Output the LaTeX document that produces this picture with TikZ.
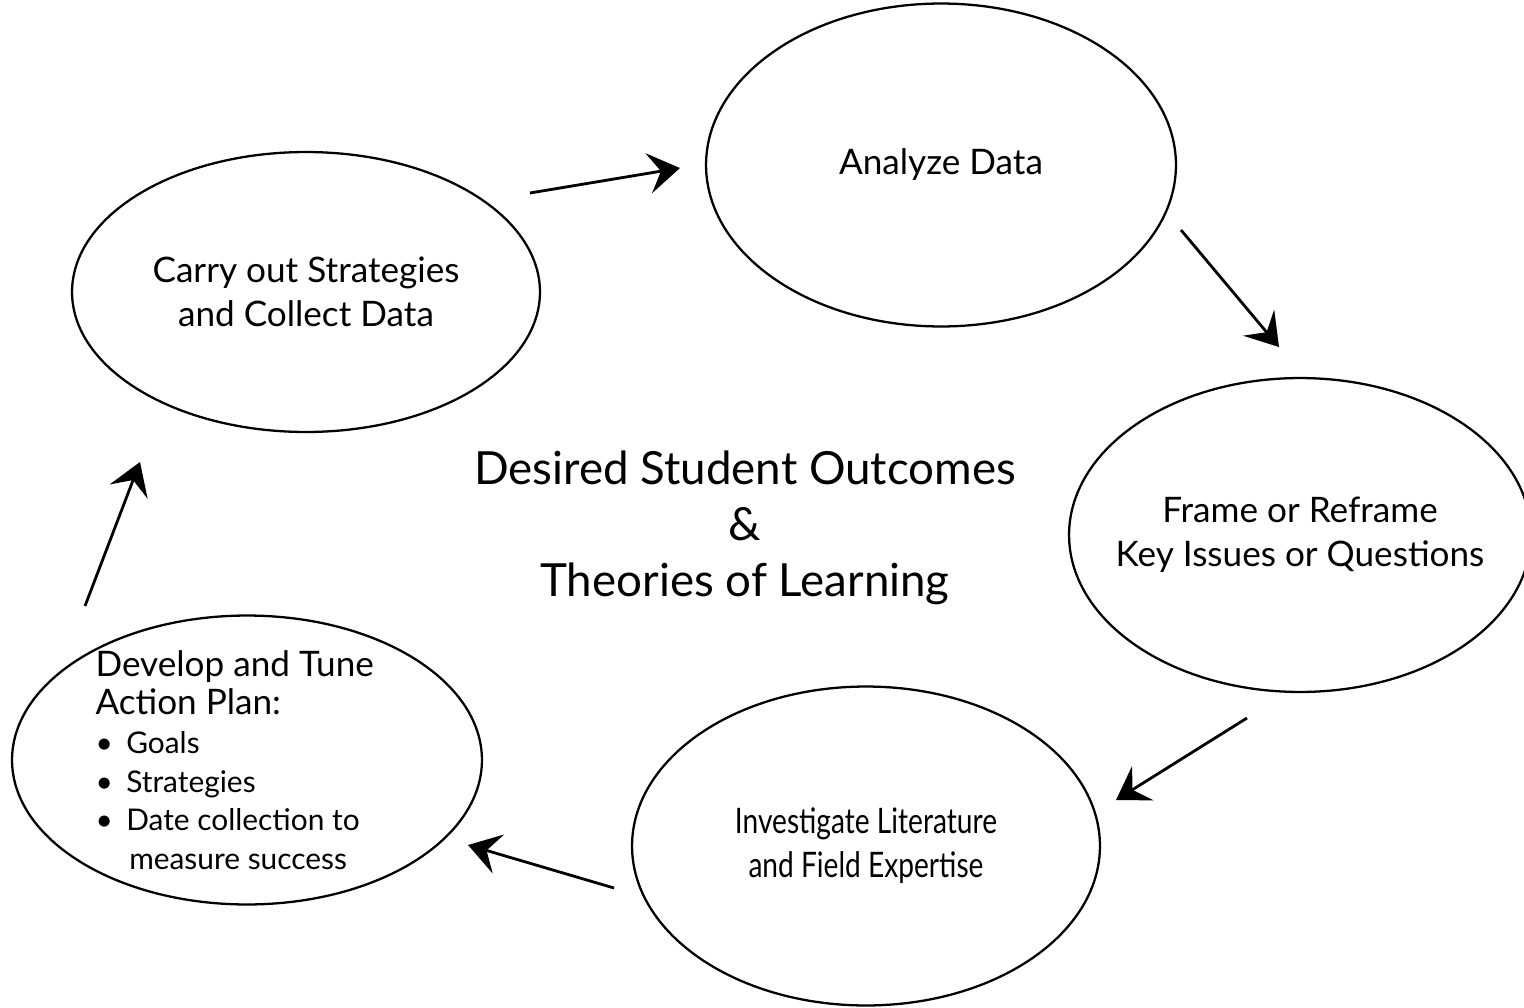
\documentclass[tikz,border=0pt]{standalone}
\usepackage{fontspec}
\setmainfont{Lato}
\newfontfamily\narrowfont[FakeStretch=0.8]{Lato}
\usetikzlibrary{shapes.geometric,arrows.meta}

\begin{document}
\begin{tikzpicture}[x=0.02cm, y=-0.02cm,
						stage/.style={ellipse, draw=black, line width=1.3pt, inner sep=-20pt, align=center, font=\fontsize{20}{25}\selectfont},
						theme/.style={rectangle, align=center, font=\fontsize{26}{32}\selectfont},
						bullets/.style={stage, align=left, font=\fontsize{17}{22}\selectfont}
					]
					\useasboundingbox (0,0) rectangle (1524,1007);
					\node[stage, minimum width=9.36cm, minimum height=5.6cm] (carry) at (306,292) {Carry out Strategies\\and Collect Data};
					\node[stage, minimum width=9.4cm, minimum height=6.46cm] (analyze) at (941,165) {Analyze Data};
					\node[stage, minimum width=9.24cm, minimum height=6.28cm] (frame) at (1300,535) {Frame or Reframe\\Key Issues or Questions};
					\node[stage, minimum width=9.36cm, minimum height=6.38cm, font=\narrowfont\fontsize{20}{25}\selectfont] (invest) at (866,846) {Investigate Literature\\and Field Expertise};
					\node[bullets, minimum width=9.4cm, minimum height=5.78cm] (develop) at (247,760) {{\fontsize{20}{22}\selectfont Develop and Tune}\hspace*{14pt}\\{\fontsize{20}{22}\selectfont Action Plan:}\\
						\textbullet\hspace{0.45em}Goals\\\textbullet\hspace{0.45em}Strategies\\\textbullet\hspace{0.45em}Date collection to\\\phantom{\textbullet}\hspace{0.55em}measure success};
					\node[theme] (outcomes) at (745,528) {Desired Student Outcomes\\\&\\Theories of Learning};
					% arrow ends
					\coordinate (c1) at (530,193);
					\coordinate (a1) at (680,168);
					\coordinate (a2) at (1181,230);
					\coordinate (f2) at (1279,347);
					\coordinate (f3) at (1247,718);
					\coordinate (i3) at (1116,800);
					\coordinate (i4) at (614,888);
					\coordinate (d4) at (468,845);
					\coordinate (d5) at (85,606);
					\coordinate (c5) at (140,462);
					\begin{scope}[line width=1.6pt, -{Stealth[length=18pt, width=23pt, inset=7pt]}]
					\draw (c1) -- (a1);
					\draw (a2) -- (f2);
					\draw (f3) -- (i3);
					\draw (i4) -- (d4);
					\draw (d5) -- (c5);
					\end{scope}
					\end{tikzpicture}
\end{document}
